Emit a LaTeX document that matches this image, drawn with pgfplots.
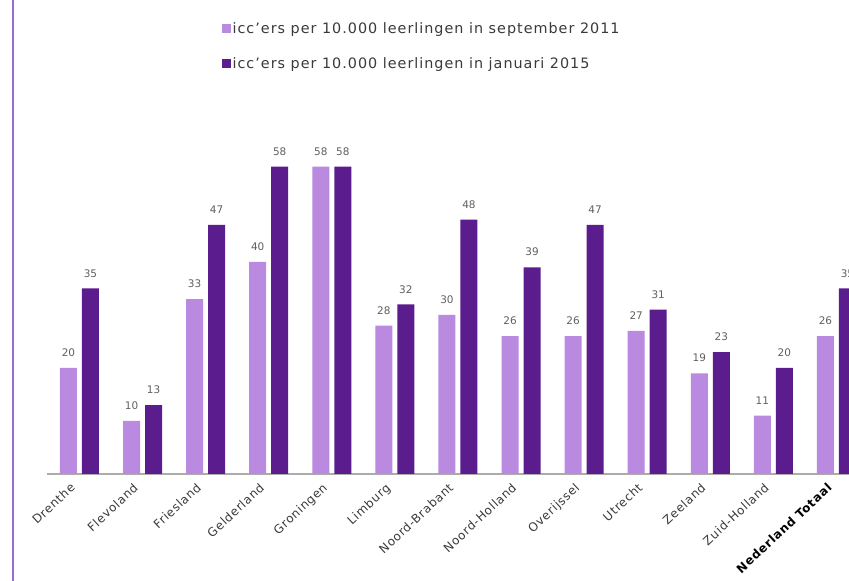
\documentclass[border=0pt]{standalone}
\usepackage{pgfplots}
\pgfplotsset{compat=1.18}
\usepackage{fontspec}
\setmainfont{DejaVu Sans}
\newfontfamily\legfont{DejaVu Sans}[LetterSpace=7]
\newfontfamily\tickfont{DejaVu Sans}[LetterSpace=6]
\definecolor{lightp}{HTML}{B98AE0}
\definecolor{darkp}{HTML}{5B1D8E}
\definecolor{framep}{HTML}{9A6CD0}
\definecolor{txt}{HTML}{3A3A3A}
\begin{document}
\begin{tikzpicture}[x=1bp,y=1bp]
\useasboundingbox (0,0) rectangle (849,581);
\clip (0,0) rectangle (849,581);
\fill[white] (0,0) rectangle (849,581);
\draw[framep, line width=2bp] (13,0) -- (13,581);
\begin{axis}[
  at={(47bp,107bp)}, anchor=south west,
  scale only axis, width=821bp, height=371bp,
  xmin=-0.515, xmax=12.5, ymin=0, ymax=70,
  axis y line=none, axis x line*=bottom,
  x axis line style={draw=gray!65, line width=1.5bp, -},
  xtick={0,...,12},
  xticklabels={Drenthe,Flevoland,Friesland,Gelderland,Groningen,Limburg,Noord-Brabant,Noord-Holland,Overijssel,Utrecht,Zeeland,Zuid-Holland,{\color{black}\bfseries Nederland Totaal}},
  xticklabel style={xshift=-10bp, yshift=-8bp, rotate=43, anchor=north east, font=\tickfont\fontsize{12}{14}\selectfont, text=txt, inner sep=0bp},
  major tick length=0pt,
  ybar=5bp, bar width=17bp,
  /pgf/number format/assume math mode=true,
  nodes near coords,
  every node near coord/.append style={font=\fontsize{10.5}{12}\selectfont, text=gray!75!black, inner sep=2bp, yshift=9bp},
  legend style={at={(0.213,1.222)}, anchor=north west, draw=none, fill=none,
    font=\legfont\fontsize{14.4}{16}\selectfont, text=txt, row sep=20bp, inner sep=0pt,
    nodes={inner sep=1.5bp}},
  legend cell align=left,
  legend image code/.code={\fill[#1,draw=none] (0bp,-4.5bp) rectangle (9bp,4.5bp);},
]
\addplot[fill=lightp, draw=none] coordinates {(0,20) (1,10) (2,33) (3,40) (4,58) (5,28) (6,30) (7,26) (8,26) (9,27) (10,19) (11,11) (12,26)};
\addplot[fill=darkp, draw=none] coordinates {(0,35) (1,13) (2,47) (3,58) (4,58) (5,32) (6,48) (7,39) (8,47) (9,31) (10,23) (11,20) (12,35)};
\legend{icc’ers per 10.000 leerlingen in september 2011, icc’ers per 10.000 leerlingen in januari 2015}
\end{axis}
\end{tikzpicture}
\end{document}
